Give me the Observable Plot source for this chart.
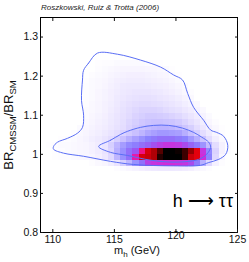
<!DOCTYPE html>
<html><head><meta charset="utf-8">
<script src="https://cdn.jsdelivr.net/npm/d3@7"></script>
<script src="https://cdn.jsdelivr.net/npm/@observablehq/plot@0.6"></script>
<style>body{margin:0;background:#fff}svg{display:block}</style>
</head><body><div id="c"></div>
<script>
// Bin grid: m_h bins of 0.5 GeV starting at 109, ratio bins of 0.015 starting at 0.94
const mhStart = 109, mhStep = 0.5;
const brStart = 0.94, brStep = 0.015;
const xTicks = [110, 115, 120, 125];
const yTicks = [0.8, 0.9, 1, 1.1, 1.2, 1.3];
// [row index, first column index, relative density values...]
const densityRows = [
  [1, 12, [2,3,5,7,9,11,12,13,13,13,12,11,9,6,4,2]],
  [2, 8, [2,4,6,10,16,26,36,46,54,64,66,67,68,68,67,66,62,52,38,22,8,2]],
  [3, 2, [1,2,2,3,4,5,6,9,14,22,36,46,54,72,83,84,86,97,100,100,100,95,84,82,68,50,22,5]],
  [4, 2, [1,2,3,4,5,6,8,11,16,24,38,46,54,60,74,83,86,93,100,100,99,95,88,82,66,48,24,8,2]],
  [5, 1, [1,2,3,3,4,5,6,8,11,16,26,36,43,48,51,54,57,61,64,66,66,65,62,57,52,45,34,20,8,2]],
  [6, 3, [1,2,3,5,7,10,12,16,20,26,32,38,42,46,50,52,54,54,54,52,50,44,38,30,20,10,4]],
  [7, 5, [2,4,6,8,10,13,16,20,24,28,32,36,40,42,44,44,43,42,38,32,26,20,12,6,2]],
  [8, 6, [3,5,7,9,11,14,17,20,24,28,31,34,36,37,37,36,34,30,26,20,14,8,4,1]],
  [9, 7, [4,6,8,10,13,16,19,23,26,29,31,32,32,31,30,28,24,20,15,10,5,2]],
  [10, 7, [3,5,7,9,12,15,18,21,24,26,28,28,27,26,24,22,19,15,11,7,3]],
  [11, 7, [3,4,6,8,11,14,17,20,22,24,24,24,23,21,19,17,14,11,7,4]],
  [12, 7, [2,4,6,8,10,13,16,18,20,21,21,20,19,17,15,13,10,7,4]],
  [13, 7, [2,3,5,7,9,12,14,16,17,18,18,17,15,14,12,10,7,4]],
  [14, 7, [2,3,5,7,9,11,13,14,15,15,15,14,13,11,9,7,4,2]],
  [15, 7, [2,3,4,6,8,10,12,13,13,13,12,11,10,9,7,5,3]],
  [16, 7, [1,3,4,5,7,9,10,11,11,11,10,9,8,7,5,3]],
  [17, 8, [2,3,4,6,7,8,9,9,9,8,7,6,5,3,1]],
  [18, 9, [2,3,4,5,6,6,6,6,5,5,4,3,1]],
  [19, 9, [1,2,2,3,3,3,3,3,2,2,1]]
];
// Contours [m_h, ratio]
const outerContour = [
  [112.5,1.215],[112.9,1.233],[113.63,1.259],[115.26,1.256],[117.13,1.241],[118.76,1.223],
  [119.81,1.203],[120.54,1.19],[120.95,1.156],[121.44,1.12],[122.25,1.087],[122.82,1.062],
  [123.31,1.056],[123.88,1.046],[124.21,1.023],[124.04,1.0],[123.47,0.987],[122.66,0.979],
  [122.01,0.972],[119.81,0.9705],[116.56,0.974],[114.69,0.982],[112.5,0.995],[110.87,1.003],
  [110.06,1.013],[110.06,1.02],[110.38,1.031],[111.2,1.041],[112.0,1.054],[112.41,1.069],
  [112.5,1.1],[112.33,1.138],[112.41,1.19]
];
const innerContour = [
  [113.72,1.02],[114.69,1.036],[115.51,1.051],[116.08,1.059],[117.13,1.069],[118.19,1.074],
  [119.41,1.074],[120.54,1.067],[121.44,1.056],[122.09,1.044],[122.66,1.031],[122.82,1.018],
  [122.49,1.0],[121.84,0.987],[119.97,0.98],[117.94,0.985],[116.08,0.997],[114.69,1.005]
];
const colorStops = [0, 8, 20, 35, 50, 60, 70, 80, 90, 100];
const colorRange = ["#ffffff","#f5f1ff","#e4ddff","#c2b9ff","#8c82ff","#9c55f2","#e020d0","#ff0010","#7a0000","#000000"];

const cells = [];
for (const [j, i0, vals] of densityRows) {
  vals.forEach((v, k) => {
    if (v <= 0) return;
    const x1 = mhStart + (i0 + k) * mhStep;
    const y1 = brStart + j * brStep;
    cells.push({x1, x2: x1 + mhStep, y1, y2: y1 + brStep, v});
  });
}
const font = "'Liberation Sans', Arial, Helvetica, sans-serif";
const contourColor = "#5a6ef5";

const svg = Plot.plot({
  width: 249, height: 262,
  marginLeft: 40, marginRight: 12, marginTop: 17, marginBottom: 30,
  style: {fontFamily: font, fontSize: "10.5px", color: "#111", background: "#fff"},
  x: {domain: [109, 125]},
  y: {domain: [0.8, 1.35]},
  color: {type: "linear", domain: colorStops, range: colorRange},
  marks: [
    Plot.rect(cells, {x1: "x1", x2: "x2", y1: "y1", y2: "y2", fill: "v", shapeRendering: "crispEdges"}),
    Plot.line(outerContour, {x: d => d[0], y: d => d[1], curve: "catmull-rom-closed", stroke: contourColor, strokeWidth: 1}),
    Plot.line(innerContour, {x: d => d[0], y: d => d[1], curve: "catmull-rom-closed", stroke: contourColor, strokeWidth: 1}),
    Plot.frame({stroke: "#000", strokeWidth: 1}),
    Plot.axisX({ticks: xTicks, tickSize: -3, text: null, label: null}),
    Plot.axisX({anchor: "top", ticks: xTicks, tickSize: -3, text: null, label: null}),
    Plot.axisY({ticks: yTicks, tickSize: -3, text: null, label: null}),
    Plot.axisY({anchor: "right", ticks: yTicks, tickSize: -3, text: null, label: null}),
    Plot.axisX({ticks: xTicks.filter(t => t !== 120), tickSize: 0, tickPadding: 3, label: null, fontSize: 10.5}),
    Plot.axisX({ticks: [120], tickSize: 0, tickPadding: 3, dy: -4, label: null, fontSize: 10.5}),
    Plot.axisY({ticks: yTicks, tickSize: 0, tickPadding: 2.5, label: null, fontSize: 10.5,
      tickFormat: d => d === 1 ? "1" : d.toFixed(1)})
  ]
});
document.getElementById("c").appendChild(svg);

const s = d3.select(svg);
s.append("text").attr("x", 41).attr("y", 10).attr("text-anchor", "start").attr("font-size", 8).attr("font-style", "italic")
  .attr("font-family", font).attr("fill", "#222").text("Roszkowski, Ruiz & Trotta (2006)");
s.append("text").attr("x", 233).attr("y", 207).attr("text-anchor", "end").attr("font-size", 18)
  .attr("font-family", font).attr("fill", "#000").text("h \u27F6 \u03C4\u03C4");
const xl = s.append("text").attr("x", 137).attr("y", 253.5).attr("text-anchor", "middle")
  .attr("font-size", 11).attr("font-family", font).attr("fill", "#111");
xl.append("tspan").text("m");
xl.append("tspan").attr("font-size", 8).attr("dy", 3).text("h");
xl.append("tspan").attr("dy", -3).text(" (GeV)");
const yl = s.append("text").attr("transform", "translate(13,125) rotate(-90)").attr("text-anchor", "middle")
  .attr("font-size", 13).attr("font-family", font).attr("fill", "#111");
yl.append("tspan").text("BR");
yl.append("tspan").attr("font-size", 9.5).attr("dy", 3).text("CMSSM");
yl.append("tspan").attr("dy", -3).text("/BR");
yl.append("tspan").attr("font-size", 9.5).attr("dy", 3).text("SM");
</script></body></html>
